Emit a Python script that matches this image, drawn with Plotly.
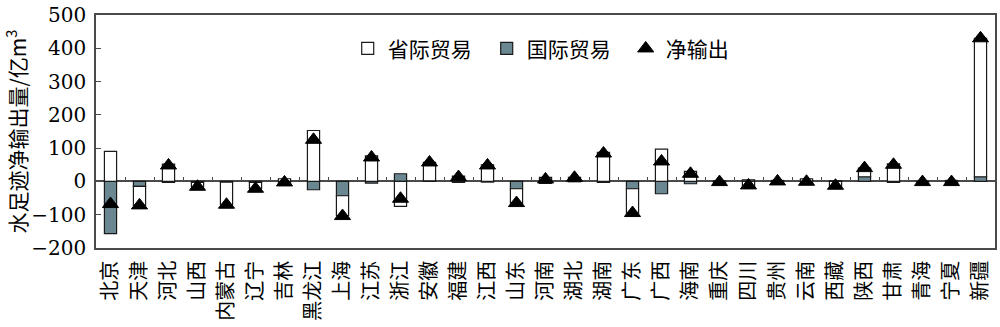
import plotly.graph_objects as go

# Provinces along the x axis
provinces = ["北京", "天津", "河北", "山西", "内蒙古", "辽宁", "吉林", "黑龙江", "上海", "江苏",
             "浙江", "安徽", "福建", "江西", "山东", "河南", "湖北", "湖南", "广东", "广西",
             "海南", "重庆", "四川", "贵州", "云南", "西藏", "陕西", "甘肃", "青海", "宁夏", "新疆"]

# Water footprint net outflow, 亿m³
interprovincial = [90, -57, 52, -13, -68, -18, 8, 153, -60, 77,
                   -75, 55, 16, 50, -43, 12, 12, 87, -73, 97,
                   30, 2, -17, 3, 8, -15, 26, 53, -2, 3, 416]
international = [-157, -15, -3, -3, -2, -3, -10, -25, -43, -5,
                 23, 2, -3, -2, -22, -6, -1, -3, -22, -37,
                 -7, -4, 5, -3, -9, 2, 14, -3, 0, -5, 14]
net_outflow = [-68, -72, 48, -16, -70, -22, -3, 125, -104, 72,
               -52, 57, 13, 48, -65, 6, 11, 84, -95, 60,
               23, -2, -12, 0, -1, -13, 40, 50, -2, -2, 430]

y_ticks = [-200, -100, 0, 100, 200, 300, 400, 500]

CJK = "Noto Sans CJK SC"
SERIF = "DejaVu Serif"
AXIS_COLOR = "#4a4a4a"

fig = go.Figure()

# International trade sits next to the zero line, inter-provincial stacks on top
fig.add_trace(go.Bar(
    x=provinces, y=international, name="国际贸易", legendrank=2,
    marker=dict(color="#6b8791", line=dict(color="#1a1a1a", width=1.2)),
))
fig.add_trace(go.Bar(
    x=provinces, y=interprovincial, name="省际贸易", legendrank=1,
    marker=dict(color="white", line=dict(color="#1a1a1a", width=1.2)),
))
fig.add_trace(go.Scatter(
    x=provinces, y=net_outflow, name="净输出", mode="markers", legendrank=3,
    marker=dict(symbol="triangle-up", size=14, color="black",
                line=dict(color="black", width=1)),
))
# Invisible helper trace that carries the category ticks drawn on the zero line
fig.add_trace(go.Scatter(
    x=provinces, y=[0] * len(provinces), xaxis="x2", mode="markers",
    marker=dict(opacity=0), showlegend=False, hoverinfo="skip",
))

fig.update_layout(
    width=1000, height=327,
    margin=dict(l=96, r=3, t=13, b=79),
    paper_bgcolor="white", plot_bgcolor="white",
    barmode="relative", bargap=0.58,
    showlegend=True,
    legend=dict(
        orientation="h", x=0.28, xanchor="left", y=0.855, yanchor="middle",
        font=dict(family=CJK, size=21, color="black"),
        bgcolor="rgba(0,0,0,0)", itemwidth=30, traceorder="normal",
        entrywidth=94,
    ),
    xaxis=dict(
        type="category", showline=True, linecolor=AXIS_COLOR, linewidth=1.5,
        mirror=True, ticks="", showgrid=False, tickangle=-90,
        tickfont=dict(family=CJK, size=20, color="black"),
        ticklabelstandoff=3, range=[-0.5, len(provinces) - 0.5],
    ),
    xaxis2=dict(
        type="category", overlaying="x", anchor="free", position=2 / 7,
        matches="x", showline=False, showgrid=False, showticklabels=False,
        ticks="inside", tickson="boundaries", ticklen=4, tickwidth=1.2,
        tickcolor=AXIS_COLOR,
    ),
    yaxis=dict(
        range=[-200, 500], tickvals=y_ticks, showline=True, linecolor=AXIS_COLOR,
        linewidth=1.5, mirror=True, ticks="inside", ticklen=5, tickwidth=1.2,
        tickcolor=AXIS_COLOR, showgrid=False,
        zeroline=True, zerolinecolor=AXIS_COLOR, zerolinewidth=1.5,
        tickfont=dict(family=SERIF, size=20, color="black"),
        ticklabelstandoff=4,
        title=dict(text="水足迹净输出量/亿m<sup>3</sup>", standoff=7,
                   font=dict(family=CJK, size=21, color="black")),
    ),
)

fig.write_html("out.html")
